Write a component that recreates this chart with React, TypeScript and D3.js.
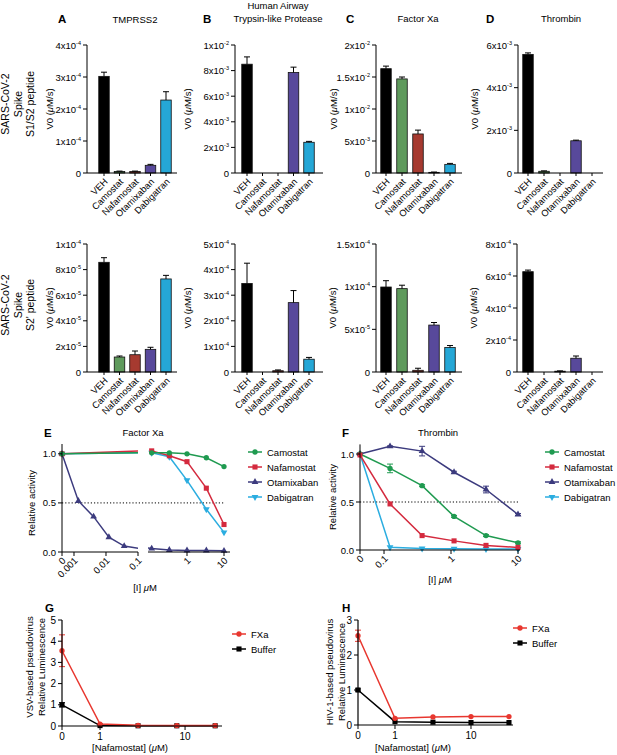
import * as d3 from 'd3'
import React from 'react'

// bar panels (A-D)
const drugs = ['VEH', 'Camostat', 'Nafamostat', 'Otamixaban', 'Dabigatran']
const barColors = ['#000000', '#5f9a5c', '#a63a30', '#58499b', '#25a7d6']

const s1Tmprss2 = [3.02e-4, 0.05e-4, 0.05e-4, 0.24e-4, 2.28e-4]
const s1Tmprss2Err = [0.13e-4, 0.01e-4, 0.01e-4, 0.03e-4, 0.26e-4]
const s1Hat = [8.5e-3, 0, 0, 7.85e-3, 2.4e-3]
const s1HatErr = [0.57e-3, 0, 0, 0.42e-3, 0.07e-3]
const s1FXa = [1.63e-2, 1.47e-2, 0.61e-2, 0.01e-2, 0.135e-2]
const s1FXaErr = [0.04e-2, 0.03e-2, 0.06e-2, 0.005e-2, 0.015e-2]
const s1Thrombin = [5.56e-3, 0.08e-3, 0, 1.51e-3, 0]
const s1ThrombinErr = [0.07e-3, 0.02e-3, 0, 0.03e-3, 0]

const s2Tmprss2 = [8.57e-5, 1.17e-5, 1.35e-5, 1.77e-5, 7.27e-5]
const s2Tmprss2Err = [0.36e-5, 0.08e-5, 0.29e-5, 0.16e-5, 0.28e-5]
const s2Hat = [3.46e-4, 0, 0.05e-4, 2.71e-4, 0.5e-4]
const s2HatErr = [0.79e-4, 0, 0.03e-4, 0.47e-4, 0.07e-4]
const s2FXa = [0.996e-4, 0.977e-4, 0.02e-4, 0.55e-4, 0.287e-4]
const s2FXaErr = [0.074e-4, 0.04e-4, 0.024e-4, 0.03e-4, 0.023e-4]
const s2Thrombin = [6.27e-4, 0, 0.05e-4, 0.86e-4, 0]
const s2ThrombinErr = [0.1e-4, 0, 0.02e-4, 0.14e-4, 0]

const tTmprss2S1 = [0, 1e-4, 2e-4, 3e-4, 4e-4]
const tHatS1 = [0, 2e-3, 4e-3, 6e-3, 8e-3, 1e-2]
const tFXaS1 = [0, 5e-3, 1e-2, 1.5e-2, 2e-2]
const tThrombinS1 = [0, 2e-3, 4e-3, 6e-3]
const tTmprss2S2 = [0, 2e-5, 4e-5, 6e-5, 8e-5, 1e-4]
const tHatS2 = [0, 1e-4, 2e-4, 3e-4, 4e-4, 5e-4]
const tFXaS2 = [0, 5e-5, 1e-4, 1.5e-4]
const tThrombinS2 = [0, 2e-4, 4e-4, 6e-4, 8e-4]

// dose response (E, F)
const inhibitors = ['Camostat', 'Nafamostat', 'Otamixaban', 'Dabigatran']
const inhColors = ['#1f9a50', '#d42a3e', '#3c3b7e', '#2badE0']
const inhShapes = ['circle', 'square', 'triangle', 'triangleDown']

const eCamostatDose = [0, 0.111, 0.333, 1, 3.33, 10]
const eCamostat = [1.0, 1.01, 1.01, 1.0, 0.96, 0.87]
const eNafamostatDose = [0, 0.111, 0.333, 1, 3.33, 10]
const eNafamostat = [1.0, 1.03, 0.98, 0.92, 0.65, 0.28]
const eOtamixabanDose = [0, 0.00137, 0.0041, 0.0123, 0.037, 0.111, 0.333, 1, 3.33, 10]
const eOtamixaban = [1.0, 0.52, 0.36, 0.15, 0.06, 0.035, 0.02, 0.015, 0.015, 0.012]
const eDabigatranDose = [0, 0.111, 0.333, 1, 3.33, 10]
const eDabigatran = [1.0, 1.01, 0.97, 0.73, 0.435, 0.2]
const eTicksLeft = [0, 0.001, 0.01, 0.1]
const eTickLabelsLeft = ['0', '0.001', '0.01', '0.1']
const eTicksRight = [1, 10]
const eTickLabelsRight = ['1', '10']

const fDose = [0, 0.123, 0.37, 1.11, 3.33, 10]
const fCamostat = [1.0, 0.85, 0.67, 0.35, 0.15, 0.075]
const fCamostatErr = [0, 0.045, 0.01, 0.01, 0.01, 0.01]
const fNafamostat = [0.99, 0.48, 0.15, 0.095, 0.048, 0.027]
const fOtamixaban = [1.0, 1.08, 1.03, 0.81, 0.63, 0.37]
const fOtamixabanErr = [0, 0.005, 0.05, 0.01, 0.035, 0.01]
const fDabigatran = [1.0, 0.028, 0.015, 0.013, 0.01, 0.01]
const fTicks = [0, 0.1, 1, 10]
const fTickLabels = ['0', '0.1', '1', '10']
const activityTicks = [0, 0.5, 1.0]

// pseudovirus (G, H)
const gDose = [0, 1, 2.8, 8, 22.6]
const gFXa = [3.55, 0.09, 0.03, 0.02, 0.02]
const gFXaErr = [0.75, 0, 0, 0, 0]
const gBuffer = [1.0, 0.02, 0.01, 0.01, 0.01]
const gBufferErr = [0.1, 0, 0, 0, 0]
const hDose = [0, 1, 3.16, 10, 31.6]
const hFXa = [2.55, 0.19, 0.23, 0.24, 0.24]
const hFXaErr = [0.16, 0, 0, 0, 0]
const hBuffer = [1.0, 0.095, 0.08, 0.07, 0.07]
const hBufferErr = [0.03, 0, 0, 0, 0]
const gTicksY = [0, 1, 2, 3, 4, 5]
const hTicksY = [0, 1, 2, 3]
const pvTicksX = [0, 1, 10]
const pvSeries = ['FXa', 'Buffer']
const pvColors = ['#e8372f', '#000000']
const pvShapes = ['circle', 'square']

const FONT = '"Liberation Sans", Arial, Helvetica, sans-serif'

const symbolPath = (shape: string) => {
  if (shape === 'square') return d3.symbol().type(d3.symbolSquare).size(26)()
  if (shape === 'circle') return d3.symbol().type(d3.symbolCircle).size(22)()
  return d3.symbol().type(d3.symbolTriangle).size(20)()
}

const Marker = ({ x, y, shape, color }: any) => (
  <path d={symbolPath(shape) as string} fill={color}
    transform={`translate(${x},${y})${shape === 'triangleDown' ? ' rotate(180)' : ''}`} />
)

const SciLabel = ({ v, x, y }: any) => {
  if (v === 0) return <text x={x} y={y} textAnchor="end" fontSize={9.5}>0</text>
  const e = Math.floor(Math.log10(v) + 1e-9)
  const m = +(v / Math.pow(10, e)).toFixed(1)
  return (
    <text x={x} y={y} textAnchor="end" fontSize={9.5}>
      {m}x10<tspan fontSize={5.5} dy={-4}>{e}</tspan>
    </text>
  )
}

const Mu = () => <tspan fontStyle="italic">μ</tspan>

// vertical text, centred on column cx (global x) and row cy
const VText = ({ cx, cy, size = 9.5, children }: any) => (
  <text transform={`translate(0,${cy}) rotate(-90)`} x={0} y={cx + size * 0.36}
    textAnchor="middle" fontSize={size}>{children}</text>
)

const BarPanel = ({ x0, yTop, y0, ticks, values, errs, off, step, end, labelX }: any) => {
  const y = d3.scaleLinear().domain([0, ticks[ticks.length - 1]]).range([y0, yTop])
  const x = d3.scalePoint<string>().domain(drugs)
    .range([x0 + off, x0 + off + step * (drugs.length - 1)])
  const bw = 10.5
  return (
    <g>
      {values.map((v: number, i: number) => {
        const cx = x(drugs[i]) as number
        const e = errs[i]
        return (
          <g key={i}>
            {v > 0 && <rect x={cx - bw / 2} y={y(v)} width={bw} height={y0 - y(v)}
              fill={barColors[i]} stroke="#111" strokeWidth={0.8} />}
            {e > 0 && <g stroke="#000" strokeWidth={1}>
              <line x1={cx} x2={cx} y1={y(v)} y2={y(v + e)} />
              <line x1={cx - 3} x2={cx + 3} y1={y(v + e)} y2={y(v + e)} />
            </g>}
          </g>
        )
      })}
      <line x1={x0} x2={x0} y1={yTop} y2={y0} stroke="#000" />
      <line x1={x0} x2={end} y1={y0} y2={y0} stroke="#000" />
      {ticks.map((t: number) => (
        <g key={t}>
          <line x1={x0 - 4} x2={x0} y1={y(t)} y2={y(t)} stroke="#000" />
          <SciLabel v={t} x={x0 - 6} y={y(t) + 3.5} />
        </g>
      ))}
      {drugs.map(d => {
        const cx = x(d) as number
        return (
          <g key={d}>
            <line x1={cx} x2={cx} y1={y0} y2={y0 + 3} stroke="#000" />
            <text transform={`translate(${cx + 2},${y0 + 7}) rotate(-45)`} textAnchor="end"
              dy="0.35em" fontSize={9.3}>{d}</text>
          </g>
        )
      })}
      <VText cx={labelX} cy={(y0 + yTop) / 2}>V0 (<Mu />M/s)</VText>
    </g>
  )
}

const Legend = ({ x, y, names, colors, shapes, gap }: any) => (
  <g>
    {names.map((n: string, i: number) => (
      <g key={n} transform={`translate(${x},${y + i * gap})`}>
        <line x1={0} x2={14} y1={0} y2={0} stroke={colors[i]} strokeWidth={1.5} />
        <Marker x={7} y={0} shape={shapes[i]} color={colors[i]} />
        <text x={19} y={3.5} fontSize={9.5}>{n}</text>
      </g>
    ))}
  </g>
)

const Series = ({ xs, ys, errs, x, y, color, shape, markerFilter, clip }: any) => {
  const pts = xs.map((d: number, i: number) => [x(d), y(ys[i])])
  const line = d3.line()
  return (
    <g>
      <path d={line(pts) as string} fill="none" stroke={color} strokeWidth={1.5}
        clipPath={clip ? `url(#${clip})` : undefined} />
      {errs && xs.map((d: number, i: number) => errs[i] > 0.004 ? (
        <g key={'e' + i} stroke={color} strokeWidth={1}>
          <line x1={x(d)} x2={x(d)} y1={y(ys[i] - errs[i])} y2={y(ys[i] + errs[i])} />
          <line x1={x(d) - 3} x2={x(d) + 3} y1={y(ys[i] - errs[i])} y2={y(ys[i] - errs[i])} />
          <line x1={x(d) - 3} x2={x(d) + 3} y1={y(ys[i] + errs[i])} y2={y(ys[i] + errs[i])} />
        </g>
      ) : null)}
      {xs.map((d: number, i: number) => (!markerFilter || markerFilter(d)) ? (
        <Marker key={i} x={x(d)} y={y(ys[i])} shape={shape} color={color} />
      ) : null)}
    </g>
  )
}

const RotTick = ({ x, y, label }: any) => (
  <text transform={`translate(${x + 2},${y + 7}) rotate(-45)`} textAnchor="end" dy="0.35em"
    fontSize={9.5}>{label}</text>
)

const YActivity = ({ x0, y }: any) => (
  <g>
    <line x1={x0} x2={x0} y1={y(1.1)} y2={y(0)} stroke="#000" />
    {activityTicks.map(t => (
      <g key={t}>
        <line x1={x0 - 4} x2={x0} y1={y(t)} y2={y(t)} stroke="#000" />
        <text x={x0 - 6} y={y(t) + 3.5} textAnchor="end" fontSize={9.5}>{t.toFixed(1)}</text>
      </g>
    ))}
  </g>
)

const PanelE = () => {
  const y = d3.scaleLinear().domain([0, 1.1]).range([552, 444])
  const xlLog = d3.scaleLog().domain([0.000422, 0.1]).range([62, 138])
  const xl = (d: number) => d === 0 ? 62 : xlLog(d)
  const xr = d3.scaleLog().domain([0.1, 10]).range([150, 224])
  const doses = [eCamostatDose, eNafamostatDose, eOtamixabanDose, eDabigatranDose]
  const vals = [eCamostat, eNafamostat, eOtamixaban, eDabigatran]
  const order = [3, 2, 1, 0]
  return (
    <g>
      <defs>
        <clipPath id="eLeft"><rect x={50} y={430} width={88} height={130} /></clipPath>
        <clipPath id="eRight"><rect x={148} y={430} width={90} height={130} /></clipPath>
      </defs>
      <line x1={62} x2={224} y1={y(0.5)} y2={y(0.5)} stroke="#000" strokeDasharray="1.2 2" />
      {order.map(i => (
        <Series key={'l' + i} xs={doses[i]} ys={vals[i]} x={xl} y={y} color={inhColors[i]}
          shape={inhShapes[i]} clip="eLeft" markerFilter={(d: number) => d < 0.1} />
      ))}
      {order.map(i => {
        const keep = doses[i].map((d, k) => k).filter(k => doses[i][k] > 0)
        return (
          <Series key={'r' + i} xs={keep.map(k => doses[i][k])} ys={keep.map(k => vals[i][k])}
            x={xr} y={y} color={inhColors[i]} shape={inhShapes[i]} clip="eRight"
            markerFilter={(d: number) => d >= 0.1} />
        )
      })}
      <YActivity x0={62} y={y} />
      <line x1={62} x2={138} y1={y(0)} y2={y(0)} stroke="#000" />
      <line x1={148} x2={230} y1={y(0)} y2={y(0)} stroke="#000" />
      {eTicksLeft.map((t, i) => (
        <g key={t}>
          <line x1={xl(t)} x2={xl(t)} y1={y(0)} y2={y(0) + 4} stroke="#000" />
          <RotTick x={xl(t)} y={y(0)} label={eTickLabelsLeft[i]} />
        </g>
      ))}
      {eTicksRight.map((t, i) => (
        <g key={t}>
          <line x1={xr(t)} x2={xr(t)} y1={y(0)} y2={y(0) + 4} stroke="#000" />
          <RotTick x={xr(t)} y={y(0)} label={eTickLabelsRight[i]} />
        </g>
      ))}
      <text x={145} y={591} textAnchor="middle" fontSize={9.5}>[I] <Mu />M</text>
      <VText cx={32} cy={503}>Relative activity</VText>
      <Legend x={248} y={452} names={inhibitors} colors={inhColors} shapes={inhShapes} gap={15} />
    </g>
  )
}

const PanelF = () => {
  const y = d3.scaleLinear().domain([0, 1.1]).range([550, 444.4])
  const xLog = d3.scaleLog().domain([0.0438, 10]).range([360, 518])
  const x = (d: number) => d === 0 ? 360 : xLog(d)
  const vals = [fCamostat, fNafamostat, fOtamixaban, fDabigatran]
  const errs = [fCamostatErr, null, fOtamixabanErr, null]
  const order = [3, 2, 0, 1]
  return (
    <g>
      <line x1={360} x2={518} y1={y(0.5)} y2={y(0.5)} stroke="#000" strokeDasharray="1.2 2" />
      {order.map(i => (
        <Series key={i} xs={fDose} ys={vals[i]} errs={errs[i]} x={x} y={y}
          color={inhColors[i]} shape={inhShapes[i]} />
      ))}
      <YActivity x0={360} y={y} />
      <line x1={360} x2={520} y1={y(0)} y2={y(0)} stroke="#000" />
      {fTicks.map((t, i) => (
        <g key={t}>
          <line x1={x(t)} x2={x(t)} y1={y(0)} y2={y(0) + 4} stroke="#000" />
          <RotTick x={x(t)} y={y(0)} label={fTickLabels[i]} />
        </g>
      ))}
      <text x={440} y={583} textAnchor="middle" fontSize={9.5}>[I] <Mu />M</text>
      <VText cx={333} cy={497}>Relative activity</VText>
      <Legend x={545} y={452} names={inhibitors} colors={inhColors} shapes={inhShapes} gap={15} />
    </g>
  )
}

const PseudoPanel = ({ x0, x1, yTop, y0, yTicks, dom, range, doses, fxa, fxaErr, buf, bufErr, lines, lx, ly, lcy, legX, legY }: any) => {
  const y = d3.scaleLinear().domain([0, yTicks[yTicks.length - 1]]).range([y0, yTop])
  const xLog = d3.scaleLog().domain(dom).range(range)
  const x = (d: number) => d === 0 ? range[0] : xLog(d)
  return (
    <g>
      <Series xs={doses} ys={buf} errs={bufErr} x={x} y={y} color={pvColors[1]} shape={pvShapes[1]} />
      <Series xs={doses} ys={fxa} errs={fxaErr} x={x} y={y} color={pvColors[0]} shape={pvShapes[0]} />
      <line x1={x0} x2={x0} y1={yTop} y2={y0} stroke="#000" strokeWidth={1.2} />
      <line x1={x0} x2={x1} y1={y0} y2={y0} stroke="#000" strokeWidth={1.2} />
      {yTicks.map((t: number) => (
        <g key={t}>
          <line x1={x0 - 4} x2={x0} y1={y(t)} y2={y(t)} stroke="#000" />
          <text x={x0 - 6} y={y(t) + 3.5} textAnchor="end" fontSize={10}>{t}</text>
        </g>
      ))}
      {pvTicksX.map(t => (
        <g key={t}>
          <line x1={x(t)} x2={x(t)} y1={y0} y2={y0 + 4} stroke="#000" />
          <text x={x(t)} y={y0 + 13.5} textAnchor="middle" fontSize={10}>{t}</text>
        </g>
      ))}
      <text x={lx} y={751} textAnchor="middle" fontSize={9.5}>[Nafamostat] (<Mu />M)</text>
      <VText cx={ly} cy={lcy}>{lines[0]}</VText>
      <VText cx={ly + 12} cy={lcy}>{lines[1]}</VText>
      <Legend x={legX} y={legY} names={pvSeries} colors={pvColors} shapes={pvShapes} gap={15} />
    </g>
  )
}

const RowLabel = ({ cy, lines }: any) => (
  <g>
    <VText cx={5} cy={cy} size={10.5}>{lines[0]}</VText>
    <VText cx={18} cy={cy} size={10.5}>{lines[1]}</VText>
    <VText cx={30} cy={cy} size={10.5}>{lines[2]}</VText>
  </g>
)

export default function App() {
  const top = { yTop: 45, y0: 173 }
  const bot = { yTop: 244, y0: 372 }
  return (
    <svg width={617} height={755} style={{ position: 'absolute', left: 0, top: 0, background: '#fff' }}
      fontFamily={FONT} fill="#000">
      <g fontWeight="bold" fontSize={11.5}>
        <text x={58} y={23}>A</text>
        <text x={203} y={23}>B</text>
        <text x={346} y={23}>C</text>
        <text x={486} y={23}>D</text>
        <text x={44} y={437}>E</text>
        <text x={342} y={437}>F</text>
        <text x={45} y={612}>G</text>
        <text x={342} y={612}>H</text>
      </g>
      <g fontSize={9.5} textAnchor="middle">
        <text x={135} y={23}>TMPRSS2</text>
        <text x={278} y={9}>Human Airway</text>
        <text x={278} y={22}>Trypsin-like Protease</text>
        <text x={418} y={22}>Factor Xa</text>
        <text x={561} y={22}>Thrombin</text>
        <text x={143} y={436}>Factor Xa</text>
        <text x={438} y={436}>Thrombin</text>
      </g>
      <RowLabel cy={104} lines={['SARS-CoV-2', 'Spike', 'S1/S2 peptide']} />
      <RowLabel cy={305} lines={['SARS-CoV-2', 'Spike', "S2' peptide"]} />

      <BarPanel {...top} x0={87} ticks={tTmprss2S1} values={s1Tmprss2} errs={s1Tmprss2Err} off={17} step={15.5} end={177} labelX={50} />
      <BarPanel {...top} x0={235} ticks={tHatS1} values={s1Hat} errs={s1HatErr} off={12} step={15.5} end={323} labelX={188} />
      <BarPanel {...top} x0={376} ticks={tFXaS1} values={s1FXa} errs={s1FXaErr} off={10} step={16} end={462} labelX={334} />
      <BarPanel {...top} x0={518} ticks={tThrombinS1} values={s1Thrombin} errs={s1ThrombinErr} off={10} step={16} end={603} labelX={475} />

      <BarPanel {...bot} x0={87} ticks={tTmprss2S2} values={s2Tmprss2} errs={s2Tmprss2Err} off={17} step={15.5} end={177} labelX={50} />
      <BarPanel {...bot} x0={235} ticks={tHatS2} values={s2Hat} errs={s2HatErr} off={12} step={15.5} end={323} labelX={188} />
      <BarPanel {...bot} x0={376} ticks={tFXaS2} values={s2FXa} errs={s2FXaErr} off={10} step={16} end={462} labelX={333} />
      <BarPanel {...bot} x0={517} ticks={tThrombinS2} values={s2Thrombin} errs={s2ThrombinErr} off={11} step={16} end={603} labelX={474} />

      <PanelE />
      <PanelF />

      <PseudoPanel x0={62} x1={222} yTop={620} y0={726} yTicks={gTicksY} dom={[0.357, 27.2]} range={[62, 222]}
        doses={gDose} fxa={gFXa} fxaErr={gFXaErr} buf={gBuffer} bufErr={gBufferErr}
        lines={['VSV-based pseudovirus', 'Relative Luminescence']} lx={130} ly={30} lcy={667} legX={232} legY={634} />
      <PseudoPanel x0={358} x1={513} yTop={620} y0={725} yTicks={hTicksY} dom={[0.326, 35.7]} range={[358, 513]}
        doses={hDose} fxa={hFXa} fxaErr={hFXaErr} buf={hBuffer} bufErr={hBufferErr}
        lines={['HIV-1-based pseudovirus', 'Relative Luminescence']} lx={413} ly={330} lcy={672} legX={513} legY={628} />
    </svg>
  )
}
